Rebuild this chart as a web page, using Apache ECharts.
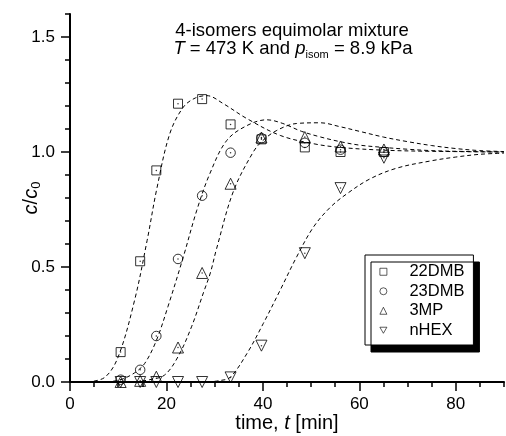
<!DOCTYPE html>
<html>
<head>
<meta charset="utf-8">
<script src="https://cdn.jsdelivr.net/npm/echarts@6/dist/echarts.min.js"></script>
<style>html,body{margin:0;padding:0;background:#fff}#c{width:506px;height:436px}</style>
</head>
<body>
<div id="c"></div>
<script>
// measured times [min]
const times = [10.5, 14.55, 17.9, 22.4, 27.4, 33.3, 39.7, 48.7, 56.1, 65.1];
// c/c0 for each isomer
const v22DMB = [0.13, 0.525, 0.92, 1.21, 1.23, 1.12, 1.055, 1.02, 1.0, 1.0];
const v23DMB = [0.01, 0.053, 0.2, 0.535, 0.81, 0.997, 1.06, 1.04, 1.01, 1.0];
const v3MP   = [0.0, 0.005, 0.023, 0.15, 0.474, 0.862, 1.063, 1.065, 1.024, 1.011];
const vnHEX  = [0.0, 0.0, 0.0, 0.0, 0.0, 0.02, 0.158, 0.56, 0.843, 0.975];

// fitted (dashed) curves
const fit22T = [3.5, 7.2, 10, 13.4, 16, 18, 20.7, 23.5, 26, 28.4, 31.8, 36.7, 43.6, 50.5, 56, 65, 75, 90];
const fit22C = [0, 0.02, 0.11, 0.356, 0.616, 0.84, 1.08, 1.195, 1.235, 1.245, 1.21, 1.145, 1.072, 1.036, 1.02, 1.008, 1.003, 1.0];
const fit23T = [7.5, 10.5, 13.4, 15.5, 17.9, 20.3, 23.5, 26.3, 29, 32.5, 36.7, 40.8, 44, 48, 52, 56, 60, 65, 70, 75, 80, 90];
const fit23C = [0, 0.01, 0.04, 0.081, 0.18, 0.327, 0.544, 0.747, 0.906, 1.05, 1.115, 1.14, 1.125, 1.09, 1.065, 1.045, 1.03, 1.02, 1.012, 1.006, 1.003, 1.0];
const fit3T  = [13.5, 16.5, 19.6, 22.4, 25.2, 27.7, 29.1, 30.4, 33.9, 38, 40, 42.9, 47, 51.9, 56, 60, 65, 70, 75, 80, 85, 90];
const fit3C  = [0, 0.01, 0.03, 0.11, 0.24, 0.39, 0.474, 0.58, 0.83, 1.0, 1.05, 1.094, 1.124, 1.127, 1.11, 1.09, 1.065, 1.045, 1.028, 1.015, 1.006, 1.002];
const fitHT  = [28.5, 31, 33.2, 36.7, 40.1, 43.6, 47, 50.5, 54, 57.4, 62.2, 67.8, 75, 80, 85, 90];
const fitHC  = [0, 0.006, 0.02, 0.124, 0.255, 0.4, 0.544, 0.674, 0.76, 0.818, 0.883, 0.93, 0.962, 0.978, 0.99, 0.995];

// axis ticks
const xMajor = [0, 20, 40, 60, 80];
const yMajor = [0, 0.5, 1.0, 1.5];

const FONT = "'Liberation Sans', Arial, sans-serif";
const zip = (a, b) => a.map((x, i) => [x, b[i]]);

const chart = echarts.init(document.getElementById('c'), null, {renderer: 'canvas'});

const markerStyle = {color: 'rgba(0,0,0,0)', borderColor: '#000', borderWidth: 1};
function scatter(name, vals, symbol, size, rot) {
  return {
    type: 'scatter', name: name, data: zip(times, vals), symbol: symbol,
    symbolSize: size, symbolRotate: rot || 0, itemStyle: markerStyle, z: 5,
    xAxisIndex: 0, yAxisIndex: 0
  };
}
function curve(tt, cc) {
  return {
    type: 'line', data: zip(tt, cc), smooth: 0.35, showSymbol: false, silent: true,
    lineStyle: {color: '#000', width: 1, type: [4, 3]}, z: 3,
    xAxisIndex: 0, yAxisIndex: 0
  };
}
const allDots = [].concat(zip(times, v22DMB), zip(times, v23DMB), zip(times, v3MP), zip(times, vnHEX));

const grid = {left: 70, right: 2, top: 14, bottom: 54, outerBoundsMode: 'none', containLabel: false};
const isMul = (v, m) => Math.abs(v / m - Math.round(v / m)) < 1e-6;

chart.setOption({
  animation: false,
  backgroundColor: '#fff',
  grid: [Object.assign({}, grid), Object.assign({}, grid)],
  xAxis: [{
    gridIndex: 0, type: 'value', min: 0, max: 90, interval: 5,
    name: 'time, {i|t} [min]', nameLocation: 'middle', nameGap: 30, nameMoveOverlap: false,
    nameTextStyle: {fontFamily: FONT, fontSize: 20, color: '#000', lineHeight: 22,
      rich: {i: {fontFamily: FONT, fontSize: 20, fontStyle: 'italic', color: '#000', lineHeight: 22}}},
    axisLine: {show: true, lineStyle: {color: '#000', width: 2}},
    axisTick: {show: true, length: 5, lineStyle: {color: '#000', width: 1.5}},
    axisLabel: {fontFamily: FONT, fontSize: 17, color: '#000', margin: 14,
      formatter: v => isMul(v, 20) ? String(v) : ''},
    splitLine: {show: false}
  }, {
    gridIndex: 1, type: 'value', min: 0, max: 90,
    axisLine: {show: false},
    axisTick: {show: true, length: 9, customValues: xMajor, lineStyle: {color: '#000', width: 1.5}},
    axisLabel: {show: false},
    splitLine: {show: false}
  }],
  yAxis: [{
    gridIndex: 0, type: 'value', min: 0, max: 1.6, interval: 0.1,
    name: '{i|c}/{i|c}{s|0}', nameLocation: 'middle', nameGap: 27, nameRotate: 90, nameMoveOverlap: false,
    nameTextStyle: {fontFamily: FONT, fontSize: 20, color: '#000', lineHeight: 24,
      rich: {
        i: {fontFamily: FONT, fontSize: 20, fontStyle: 'italic', color: '#000', lineHeight: 24},
        s: {fontFamily: FONT, fontSize: 13, color: '#000', lineHeight: 14, verticalAlign: 'bottom'}
      }},
    axisLine: {show: true, lineStyle: {color: '#000', width: 2}},
    axisTick: {show: true, length: 5, lineStyle: {color: '#000', width: 1.5}},
    axisLabel: {fontFamily: FONT, fontSize: 17, color: '#000', margin: 15,
      formatter: v => isMul(v, 0.5) ? v.toFixed(1) : ''},
    splitLine: {show: false}
  }, {
    gridIndex: 1, type: 'value', min: 0, max: 1.6,
    axisLine: {show: false},
    axisTick: {show: true, length: 9, customValues: yMajor, lineStyle: {color: '#000', width: 1.5}},
    axisLabel: {show: false},
    splitLine: {show: false}
  }],
  legend: {
    data: [{name: '22DMB'}, {name: '23DMB'}, {name: '3MP'},
           {name: 'nHEX', icon: 'path://M0,0 L10,0 L5,8.66 Z'}],
    orient: 'vertical', left: 365, top: 255,
    itemWidth: 7, itemHeight: 7, itemGap: 0,
    padding: [7, 9, 5, 14.5],
    itemStyle: {color: 'rgba(0,0,0,0)', borderColor: '#000', borderWidth: 0.8},
    backgroundColor: '#fff', borderColor: '#000', borderWidth: 1,
    shadowColor: '#000', shadowBlur: 0, shadowOffsetX: 6, shadowOffsetY: 7,
    textStyle: {fontFamily: FONT, fontSize: 16.5, color: '#000', lineHeight: 19.5, padding: [0, 0, 0, 17.5]}
  },
  graphic: [{
    type: 'text', x: 292, y: 31, z: 10,
    style: {text: '4-isomers equimolar mixture', fontFamily: FONT, fontSize: 18.5, fill: '#000',
      align: 'center', verticalAlign: 'middle'}
  }, {
    type: 'text', x: 293, y: 49, z: 10,
    style: {text: '{it|T} = 473 K and {it|p}{sub|isom} = 8.9 kPa', fontFamily: FONT, fontSize: 18.5,
      fill: '#000', align: 'center', verticalAlign: 'middle', lineHeight: 22,
      rich: {
        it: {fontFamily: FONT, fontSize: 18.5, fontStyle: 'italic', fill: '#000', lineHeight: 22},
        sub: {fontFamily: FONT, fontSize: 11, fill: '#000', lineHeight: 14, verticalAlign: 'bottom'}
      }}
  }],
  series: [
    curve(fit22T, fit22C), curve(fit23T, fit23C), curve(fit3T, fit3C), curve(fitHT, fitHC),
    scatter('22DMB', v22DMB, 'rect', 9),
    scatter('23DMB', v23DMB, 'circle', 9.5),
    scatter('3MP', v3MP, 'triangle', 11),
    scatter('nHEX', vnHEX, 'triangle', 11, 180),
    {type: 'scatter', data: allDots, symbol: 'circle', symbolSize: 1.5, silent: true,
     itemStyle: {color: '#000'}, z: 6, xAxisIndex: 0, yAxisIndex: 0}
  ]
});
</script>
</body>
</html>
